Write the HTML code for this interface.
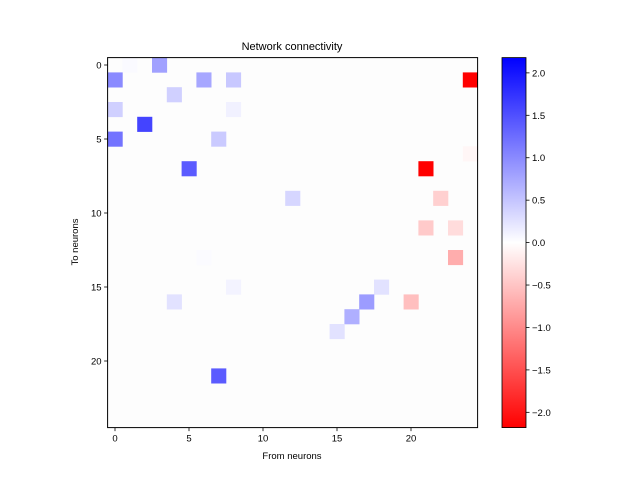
<!DOCTYPE html>
<html><head><meta charset="utf-8"><style>
body{margin:0;background:#fff}
svg{display:block;font-family:"Liberation Sans",sans-serif}
</style></head><body>
<svg id="chart" width="640" height="480" viewBox="0 0 640 480" xmlns="http://www.w3.org/2000/svg">
<rect width="640" height="480" fill="#fff"/>
<g id="cells"></g>
<g id="axes"></g>
<g id="cbar"></g>
<text x="292" y="50" font-size="11" text-anchor="middle">Network connectivity</text>
<text x="292" y="459" font-size="9.5" text-anchor="middle">From neurons</text>
<text x="78" y="242" font-size="9.5" text-anchor="middle" transform="rotate(-90 78 242)">To neurons</text>
</svg>
<script>
const N = 25;
const vmax = 2.18;
const cellCols = [3,1,0,6,8,24,4,0,8,2,7,0,24,21,5,12,22,21,23,6,23,18,8,4,17,20,16,15,7];
const cellRows = [0,0,1,1,1,1,2,3,3,4,5,5,6,7,7,9,9,11,11,13,13,15,15,16,16,16,17,18,21];
const cellVals = [0.8,0.04,1.0,0.75,0.47,-2.18,0.4,0.4,0.12,1.6,0.45,1.2,-0.08,-2.18,1.4,0.35,-0.4,-0.45,-0.3,0.03,-0.7,0.25,0.1,0.25,0.85,-0.55,0.68,0.25,1.4];
const axisTicks = [0,5,10,15,20];
const cbarTicks = [2.0,1.5,1.0,0.5,0.0,-0.5,-1.0,-1.5,-2.0];

const NS = "http://www.w3.org/2000/svg";
const L = 107.6, T = 57.6, S = 14.8;
const W = S*N;
function xs(c){return L + c*S;}
function ys(r){return T + r*S;}
function color(v){
  let t = Math.max(-1, Math.min(1, v/vmax));
  if (t >= 0){const k=Math.round(255*(1-t)); return `rgb(${k},${k},255)`;}
  const k=Math.round(255*(1+t)); return `rgb(255,${k},${k})`;
}
function mk(tag, attrs, parent){
  const e=document.createElementNS(NS,tag);
  for(const k in attrs) e.setAttribute(k, attrs[k]);
  parent.appendChild(e); return e;
}
const cells=document.getElementById('cells');
const bg=mk('rect',{x:L,y:T,width:W,height:W,fill:'#fdfdfd'},cells);


for(let i=0;i<cellVals.length;i++){
  const r=mk('rect',{x:xs(cellCols[i]),y:ys(cellRows[i]),width:S+0.3,height:S+0.3,fill:color(cellVals[i])},cells);
  
  
}
const axes=document.getElementById('axes');
const frame=mk('rect',{x:L,y:T,width:W,height:W,fill:'none',stroke:'#000','stroke-width':1},axes);


for(const t of axisTicks){
  const cx=xs(t)+S/2, cy=ys(t)+S/2;
  mk('line',{x1:cx,y1:T+W,x2:cx,y2:T+W+3.5,stroke:'#000','stroke-width':0.8},axes);
  const tx=mk('text',{x:cx,y:T+W+14,'font-size':9.5,'text-anchor':'middle'},axes);
  tx.textContent=t;
  
  
  mk('line',{x1:L,y1:cy,x2:L-3.5,y2:cy,stroke:'#000','stroke-width':0.8},axes);
  const ty=mk('text',{x:L-6,y:cy+3.5,'font-size':9.5,'text-anchor':'end'},axes);
  ty.textContent=t;
  
  
}
// colorbar
const cb=document.getElementById('cbar');
const CX=502, CW=24, CT=T, CH=W;
const defs=mk('defs',{},cb);
const g=mk('linearGradient',{id:'cg',x1:0,y1:0,x2:0,y2:1},defs);
mk('stop',{offset:'0','stop-color':'rgb(0,0,255)'},g);
mk('stop',{offset:'0.5','stop-color':'rgb(255,255,255)'},g);
mk('stop',{offset:'1','stop-color':'rgb(255,0,0)'},g);
mk('rect',{x:CX,y:CT,width:CW,height:CH,fill:'url(#cg)',stroke:'#000','stroke-width':0.8},cb);
function cy(v){return CT + CH*(vmax - v)/(2*vmax);}
for(const v of cbarTicks){
  const y=cy(v);
  mk('line',{x1:CX+CW,y1:y,x2:CX+CW+3.5,y2:y,stroke:'#000','stroke-width':0.8},cb);
  const t=mk('text',{x:CX+CW+6,y:y+3.5,'font-size':9.5},cb);
  t.textContent=(v<0?'\u2212':'')+Math.abs(v).toFixed(1);
  
  
}
</script>
</body></html>
